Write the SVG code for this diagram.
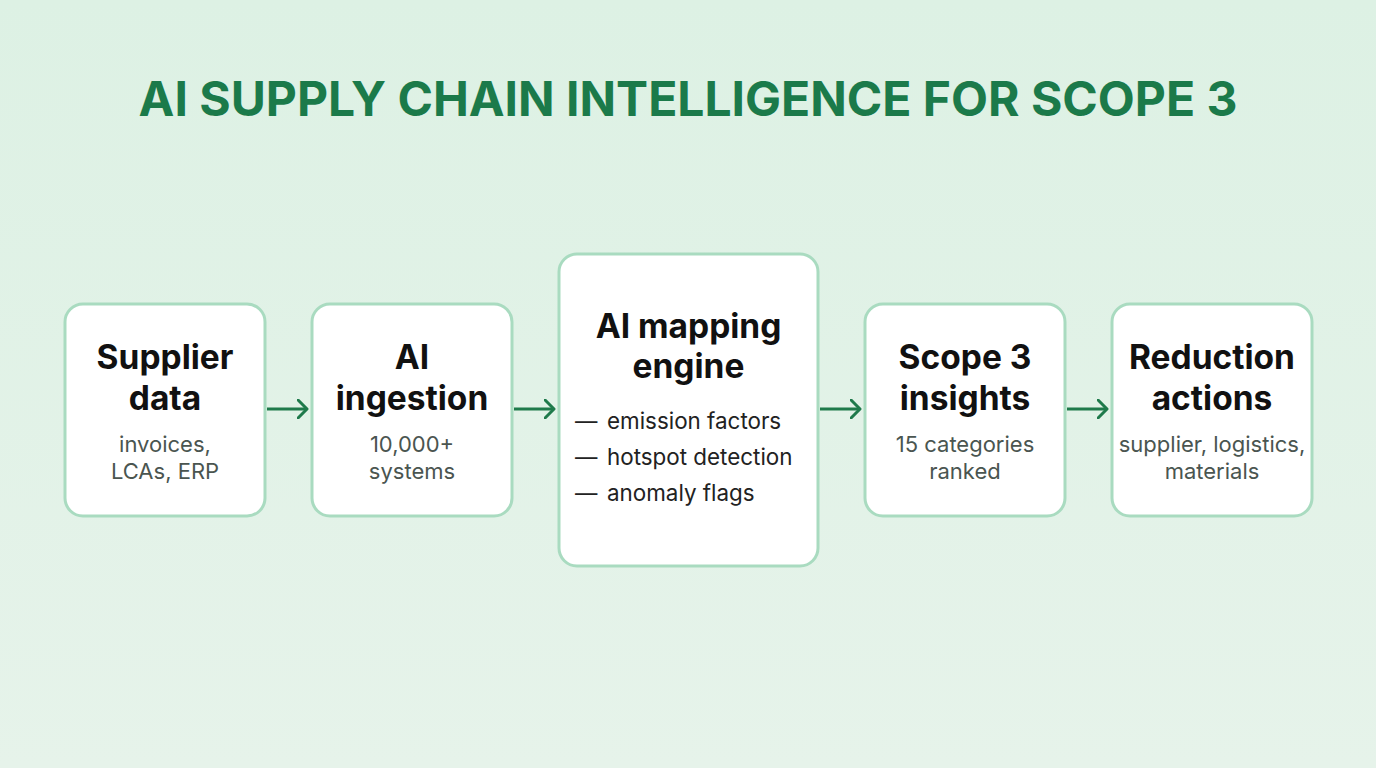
<svg xmlns="http://www.w3.org/2000/svg" width="1376" height="768" viewBox="0 0 1376 768">
<defs>
<linearGradient id="bg" x1="0" y1="0" x2="0" y2="1">
<stop offset="0" stop-color="#ddf1e4"/>
<stop offset="1" stop-color="#e6f3ea"/>
</linearGradient>
<marker id="ah" viewBox="0 0 12 20" refX="10" refY="10" markerWidth="12" markerHeight="20" markerUnits="userSpaceOnUse" orient="auto">
<path d="M1,1 L10,10 L1,19" fill="none" stroke="#1f7a4b" stroke-width="3" stroke-linecap="round" stroke-linejoin="round"/>
</marker>
</defs>
<style>
.box{fill:#ffffff;stroke:#a9dbc0;stroke-width:3}
.t{font-family:Inter,"Noto Sans","Liberation Sans",sans-serif;font-weight:700;font-size:33.5px;fill:#111111;text-anchor:middle}
.s{font-family:Inter,"Noto Sans","Liberation Sans",sans-serif;font-size:22px;fill:#4a5550;text-anchor:middle}
.b{font-family:Inter,"Noto Sans","Liberation Sans",sans-serif;font-size:22.4px;fill:#222222}
.c{stroke:#1f7a4b;stroke-width:3;fill:none}
</style>
<rect width="1376" height="768" fill="url(#bg)"/>
<text x="688" y="116" font-family="Inter,'Noto Sans','Liberation Sans',sans-serif" font-weight="700" font-size="48" fill="#1b7a4a" text-anchor="middle">AI SUPPLY CHAIN INTELLIGENCE FOR SCOPE 3</text>
<g id="connectors">
<line class="c" x1="267" y1="409" x2="307" y2="409" marker-end="url(#ah)"/>
<line class="c" x1="514" y1="409" x2="554" y2="409" marker-end="url(#ah)"/>
<line class="c" x1="820" y1="409" x2="860" y2="409" marker-end="url(#ah)"/>
<line class="c" x1="1067" y1="409" x2="1107" y2="409" marker-end="url(#ah)"/>
</g>
<g id="supplier-data">
<rect class="box" x="65" y="304" width="200" height="212" rx="18"/>
<text class="t" x="165" y="369">Supplier</text>
<text class="t" x="165" y="410">data</text>
<text class="s" x="165" y="452">invoices,</text>
<text class="s" x="165" y="479">LCAs, ERP</text>
</g>
<g id="ai-ingestion">
<rect class="box" x="312" y="304" width="200" height="212" rx="18"/>
<text class="t" x="412" y="369">AI</text>
<text class="t" x="412" y="410">ingestion</text>
<text class="s" x="412" y="452">10,000+</text>
<text class="s" x="412" y="479">systems</text>
</g>
<g id="ai-mapping-engine">
<rect class="box" x="559" y="254" width="259" height="312" rx="18"/>
<text class="t" x="688.5" y="338">AI mapping</text>
<text class="t" x="688.5" y="378">engine</text>
<text class="b" x="575" y="429">—</text>
<text class="b" x="607" y="429">emission factors</text>
<text class="b" x="575" y="465">—</text>
<text class="b" x="607" y="465">hotspot detection</text>
<text class="b" x="575" y="501">—</text>
<text class="b" x="607" y="501">anomaly flags</text>
</g>
<g id="scope3-insights">
<rect class="box" x="865" y="304" width="200" height="212" rx="18"/>
<text class="t" x="965" y="369">Scope 3</text>
<text class="t" x="965" y="410">insights</text>
<text class="s" x="965" y="452">15 categories</text>
<text class="s" x="965" y="479">ranked</text>
</g>
<g id="reduction-actions">
<rect class="box" x="1112" y="304" width="200" height="212" rx="18"/>
<text class="t" x="1212" y="369">Reduction</text>
<text class="t" x="1212" y="410">actions</text>
<text class="s" x="1212" y="452">supplier, logistics,</text>
<text class="s" x="1212" y="479">materials</text>
</g>
</svg>
